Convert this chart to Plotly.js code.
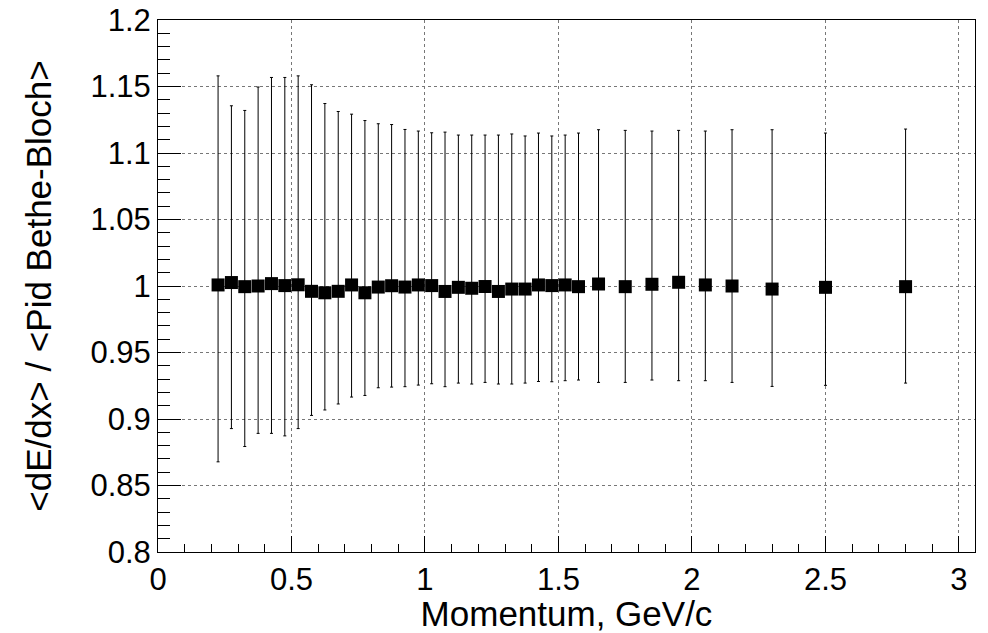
<!DOCTYPE html>
<html>
<head>
<meta charset="utf-8">
<script src="https://cdn.plot.ly/plotly-3.0.1.min.js"></script>
<style>
html, body { margin: 0; padding: 0; background: #ffffff; }
#chart { width: 988px; height: 633px; }
</style>
</head>
<body>
<div id="chart"></div>
<script>
// Momentum bin centres, GeV/c
const momentum = [0.225, 0.275, 0.325, 0.375, 0.425, 0.475, 0.525, 0.575, 0.625, 0.675,
  0.725, 0.775, 0.825, 0.875, 0.925, 0.975, 1.025, 1.075, 1.125, 1.175,
  1.225, 1.275, 1.325, 1.375, 1.425, 1.475, 1.525, 1.575, 1.65, 1.75,
  1.85, 1.95, 2.05, 2.15, 2.3, 2.5, 2.8];
// <dE/dx> / <Pid Bethe-Bloch>
const ratio = [1.0008, 1.0026, 0.9995, 1.0000, 1.0018, 1.0003, 1.0009, 0.9960, 0.9949, 0.9960,
  1.0008, 0.9949, 0.9992, 1.0002, 0.9992, 1.0008, 1.0003, 0.9959, 0.9990, 0.9983,
  0.9996, 0.9959, 0.9977, 0.9977, 1.0008, 1.0003, 1.0008, 0.9995, 1.0015, 0.9995,
  1.0013, 1.0028, 1.0008, 1.0000, 0.9977, 0.9990, 0.9995];
// upper end of each error bar
const upperEnd = [1.158, 1.1355, 1.132, 1.1496, 1.1568, 1.1568, 1.158, 1.1513, 1.1372, 1.1312,
  1.1292, 1.1244, 1.122, 1.1214, 1.1177, 1.1165, 1.1152, 1.1157, 1.1135, 1.1135,
  1.1135, 1.1135, 1.1143, 1.1128, 1.115, 1.1128, 1.1135, 1.115, 1.1175, 1.117,
  1.1165, 1.117, 1.1165, 1.1175, 1.1175, 1.115, 1.118];
// lower end of each error bar
const lowerEnd = [0.8678, 0.8928, 0.8793, 0.8892, 0.8892, 0.8873, 0.8928, 0.9027, 0.9068, 0.9113,
  0.9165, 0.9177, 0.9235, 0.924, 0.9243, 0.9255, 0.9265, 0.9243, 0.927, 0.9263,
  0.9275, 0.9263, 0.9263, 0.927, 0.9282, 0.928, 0.9288, 0.9293, 0.9275, 0.9275,
  0.9293, 0.9288, 0.9288, 0.9275, 0.9245, 0.9253, 0.927];

const xTitle = 'Momentum, GeV/c';
const yTitle = '&lt;dE/dx&gt; / &lt;Pid Bethe-Bloch&gt;';

const errPlus = upperEnd.map((u, i) => u - ratio[i]);
const errMinus = lowerEnd.map((l, i) => ratio[i] - l);

const FONT = '"Liberation Sans", Arial, Helvetica, sans-serif';

const trace = {
  type: 'scatter',
  mode: 'markers',
  x: momentum,
  y: ratio,
  marker: { symbol: 'square', size: 13, color: '#000000', line: { width: 0 } },
  error_y: {
    type: 'data', symmetric: false,
    array: errPlus, arrayminus: errMinus,
    color: '#000000', thickness: 1, width: 1.5
  },
  hoverinfo: 'x+y'
};

const axisCommon = {
  showline: true, linecolor: '#000000', linewidth: 1, mirror: true,
  ticks: 'inside', tickcolor: '#000000', tickwidth: 1,
  showgrid: true, gridcolor: '#777777', gridwidth: 1, griddash: 'dot',
  zeroline: false,
  tickfont: { family: FONT, size: 31, color: '#000000' },
  automargin: false
};

const layout = {
  width: 988, height: 633,
  paper_bgcolor: '#ffffff', plot_bgcolor: '#ffffff',
  margin: { l: 158, r: 13, t: 20, b: 81 },
  showlegend: false,
  xaxis: Object.assign({}, axisCommon, {
    range: [0, 3.06],
    tick0: 0, dtick: 0.5, ticklen: 16,
    minor: { dtick: 0.1, ticklen: 8, ticks: 'inside', tickcolor: '#000000', showgrid: false },
    title: { text: xTitle, font: { family: FONT, size: 35, color: '#000000' }, standoff: 0 }
  }),
  yaxis: Object.assign({}, axisCommon, {
    range: [0.8, 1.2],
    tick0: 0.8, dtick: 0.05, ticklen: 23,
    minor: { dtick: 0.01, ticklen: 12, ticks: 'inside', tickcolor: '#000000', showgrid: false },
    title: { text: yTitle, font: { family: FONT, size: 35, color: '#000000' }, standoff: 28 }
  })
};

Plotly.newPlot('chart', [trace], layout, { displayModeBar: false, staticPlot: true });
</script>
</body>
</html>
